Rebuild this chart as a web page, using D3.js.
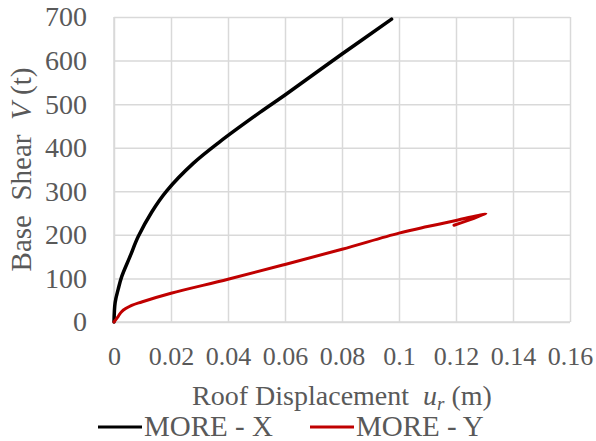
<!DOCTYPE html>
<html>
<head>
<meta charset="utf-8">
<script src="https://cdn.jsdelivr.net/npm/d3@7"></script>
<style>
  html, body { margin: 0; padding: 0; background: #fff; }
  svg { display: block; }
  svg text { font-family: "Liberation Serif", "Times New Roman", Times, "DejaVu Serif", "Noto Serif", serif !important; fill: #595959; }
</style>
</head>
<body>
<svg id="chart" width="596" height="441"></svg>
<script>
// Pushover curves: roof displacement (m) vs base shear (t)
const seriesNames = ["MORE - X", "MORE - Y"];
const seriesColors = ["#000000", "#c00000"];

const moreX = [
  [0, 0], [0.0004, 45], [0.0015, 76], [0.0027, 104], [0.0056, 150],
  [0.0085, 196], [0.0132, 252], [0.0185, 301], [0.0278, 364], [0.0372, 414],
  [0.0512, 481], [0.06, 521], [0.08, 615], [0.0974, 695]
];
const moreY = [
  [0, 0], [0.0015, 13], [0.0027, 24], [0.0062, 38], [0.0097, 46],
  [0.02, 66], [0.04, 98], [0.06, 132], [0.08, 167], [0.1, 204],
  [0.11, 219], [0.12, 233], [0.1305, 248], [0.1193, 222]
];

const xTicks = [0, 0.02, 0.04, 0.06, 0.08, 0.1, 0.12, 0.14, 0.16];
const yTicks = [0, 100, 200, 300, 400, 500, 600, 700];

const svg = d3.select("#chart");
const margin = { left: 114, top: 17, right: 26, bottom: 119 };
const W = 596 - margin.left - margin.right;
const H = 441 - margin.top - margin.bottom;

const x = d3.scaleLinear().domain([0, 0.16]).range([0, W]);
const y = d3.scaleLinear().domain([0, 700]).range([H, 0]);

const g = svg.append("g").attr("transform", `translate(${margin.left},${margin.top})`);

// gridlines + tick labels
const gx = g.append("g")
  .attr("transform", `translate(0,${H})`)
  .call(d3.axisBottom(x).tickValues(xTicks).tickSize(-H).tickPadding(25)
    .tickFormat(d => String(+d.toFixed(2))));
const gy = g.append("g")
  .call(d3.axisLeft(y).tickValues(yTicks).tickSize(-W).tickPadding(27)
    .tickFormat(d3.format("d")));

[gx, gy].forEach(ax => {
  ax.attr("font-family", null);
  ax.select(".domain").remove();
  ax.selectAll(".tick line").attr("stroke", "#d9d9d9").attr("stroke-width", 1.5);
  ax.selectAll(".tick text").attr("fill", "#595959");
});
gx.selectAll(".tick text").style("font-size", "26px");
gy.selectAll(".tick text").style("font-size", "28px");

// frame edges of plot area
g.append("line").attr("x1", 0).attr("x2", W).attr("y1", H).attr("y2", H)
  .attr("stroke", "#d9d9d9").attr("stroke-width", 1.5);
g.append("line").attr("x1", 0).attr("x2", 0).attr("y1", 0).attr("y2", H)
  .attr("stroke", "#d9d9d9").attr("stroke-width", 1.5);

// curves
const line = d3.line()
  .x(d => x(d[0]))
  .y(d => y(d[1]))
  .curve(d3.curveCatmullRom.alpha(0.5));

[moreX, moreY].forEach((data, i) => {
  g.append("path")
    .datum(data)
    .attr("fill", "none")
    .attr("stroke", seriesColors[i])
    .attr("stroke-width", i === 0 ? 3.5 : 3)
    .attr("stroke-linecap", "round")
    .attr("stroke-linejoin", "round")
    .attr("d", line);
});

// axis titles
const xt = svg.append("text")
  .attr("x", margin.left + W / 2)
  .attr("y", 405)
  .attr("text-anchor", "middle")
  .style("font-size", "28px");
xt.append("tspan").text("Roof Displacement\u00a0 ");
xt.append("tspan").attr("font-style", "italic").text("u");
xt.append("tspan").attr("font-style", "italic").attr("font-size", "19px").attr("dy", 5).text("r");
xt.append("tspan").attr("dy", -5).text(" (m)");

const yt = svg.append("text")
  .attr("transform", `translate(31,${margin.top + H / 2}) rotate(-90)`)
  .attr("text-anchor", "middle")
  .style("font-size", "29px");
yt.append("tspan").text("Base\u00a0 Shear\u00a0 ");
yt.append("tspan").attr("font-style", "italic").text("V");
yt.append("tspan").text(" (t)");

// legend
const legendX = [98, 310];
seriesNames.forEach((name, i) => {
  const lg = svg.append("g").attr("transform", `translate(${legendX[i]},427)`);
  lg.append("line").attr("x1", 0).attr("x2", 44).attr("y1", 0).attr("y2", 0)
    .attr("stroke", seriesColors[i]).attr("stroke-width", 3);
  lg.append("text").attr("x", 46).attr("y", 8.5).style("font-size", "29px").text(name);
});
</script>
</body>
</html>
